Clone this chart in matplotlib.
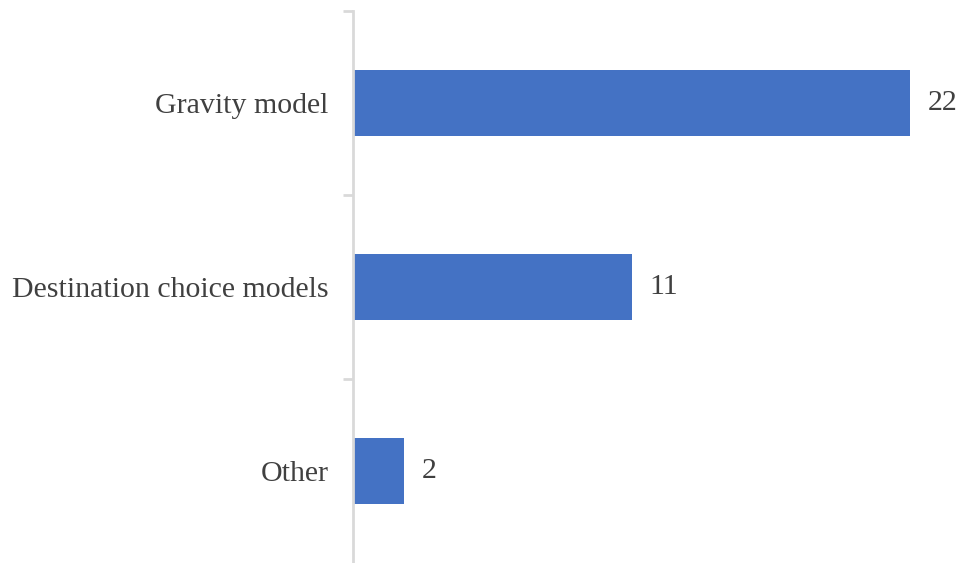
import matplotlib
matplotlib.use("Agg")
import matplotlib.pyplot as plt

categories = ["Gravity model", "Destination choice models", "Other"]
counts = [22, 11, 2]

bar_color = "#4472C4"
text_color = "#404040"
axis_color = "#D9D9D9"

plt.rcParams["font.family"] = ["Liberation Serif", "DejaVu Serif"]

fig = plt.figure(figsize=(9.63, 5.63), dpi=100)
W, H = 963, 563
px_per_unit = 25.32
x0, xmax = 353, 24
ax = fig.add_axes([x0 / W, 0, xmax * px_per_unit / W, 1 - 11 / H])

ypos = list(range(len(categories)))
ax.barh(ypos, counts, height=0.355, color=bar_color, zorder=2)
ax.set_xlim(0, xmax)
ax.set_ylim(len(categories) - 0.5, -0.5)

for y, v in zip(ypos, counts):
    ax.text(v + 0.7, y, str(v), va="center", ha="left", fontsize=21.5, color=text_color)

ax.set_yticks(ypos)
ax.set_yticklabels(categories, fontsize=21.5, color=text_color)
ax.tick_params(axis="y", which="major", length=0, pad=17.5)
# separators between categories (top and inner boundaries)
ax.set_yticks([i - 0.5 for i in range(len(categories))], minor=True)
ax.tick_params(axis="y", which="minor", length=7, width=2, color=axis_color)
ax.set_xticks([])

for s in ["top", "right", "bottom"]:
    ax.spines[s].set_visible(False)
ax.spines["left"].set_color(axis_color)
ax.spines["left"].set_linewidth(2)

fig.savefig("out.png", dpi=100)
